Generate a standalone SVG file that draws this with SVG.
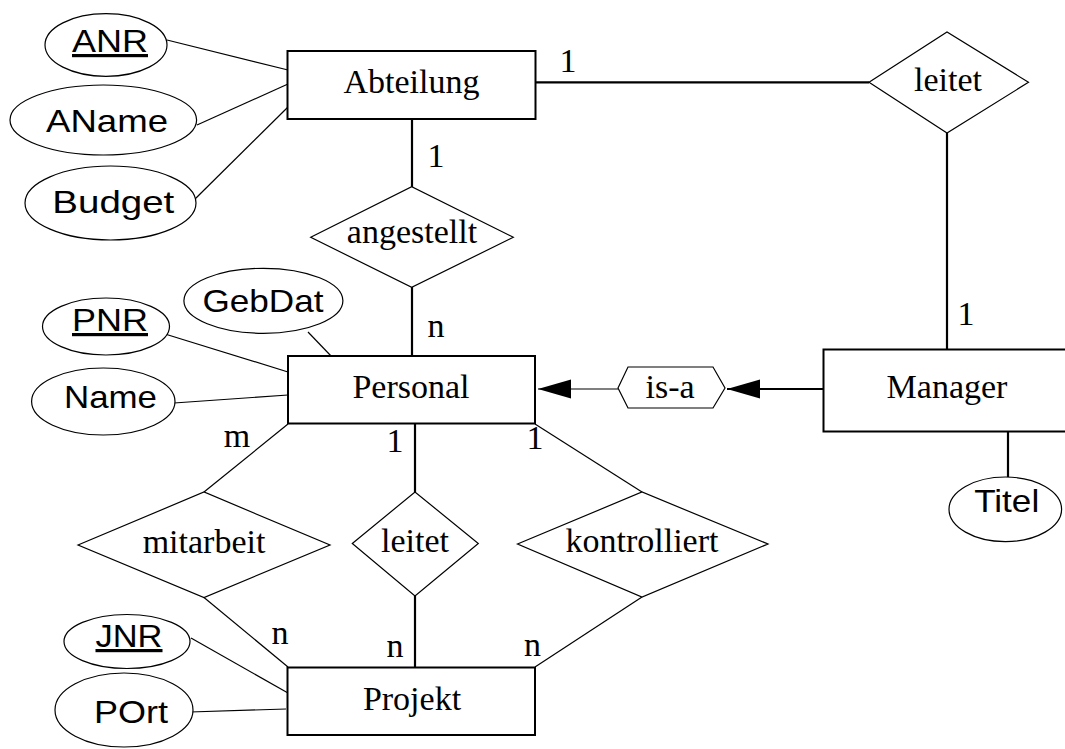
<svg xmlns="http://www.w3.org/2000/svg" width="1065" height="749" viewBox="0 0 1065 749">
<style>
.bg{fill:#fff}
.ent{fill:#fff;stroke:#000;stroke-width:2}
.rel{fill:#fff;stroke:#000;stroke-width:1.2}
.att{fill:#fff;stroke:#000;stroke-width:1.2}
.thin{stroke:#000;stroke-width:1.2;fill:none}
.thick{stroke:#000;stroke-width:2.2;fill:none}
.t{font-family:"Liberation Serif","Times New Roman",serif;font-size:34px;fill:#000;text-anchor:middle}
.a{font-family:"Liberation Sans",Arial,sans-serif;font-size:32px;fill:#000;text-anchor:middle}
.u{text-decoration:underline}
</style>
<defs>
<marker id="arr" markerUnits="userSpaceOnUse" markerWidth="34" markerHeight="20" refX="33" refY="9.5" orient="auto" viewBox="0 0 34 20">
<path d="M0,0 L33,9.5 L0,19 Z" fill="#000"/>
</marker>
</defs>
<rect class="bg" x="0" y="0" width="1065" height="749"/>
<g id="connectors">
<line class="thin" x1="167" y1="40" x2="288" y2="70"/>
<line class="thin" x1="197" y1="125" x2="288" y2="84"/>
<line class="thin" x1="192" y1="202" x2="288" y2="107"/>
<line class="thick" x1="536" y1="82.3" x2="869" y2="82.3"/>
<line class="thick" x1="947" y1="133" x2="947" y2="349"/>
<line class="thick" x1="412" y1="119" x2="412" y2="187"/>
<line class="thick" x1="412" y1="287" x2="412" y2="356"/>
<line class="thin" x1="165" y1="334" x2="288" y2="372"/>
<line class="thin" x1="308" y1="332" x2="332" y2="357"/>
<line class="thin" x1="174" y1="403" x2="288" y2="395"/>
<line class="thick" x1="823" y1="389" x2="727" y2="389" marker-end="url(#arr)"/>
<line class="thin" x1="618" y1="389" x2="538" y2="389" marker-end="url(#arr)"/>
<line class="thick" x1="1008" y1="432" x2="1008" y2="477"/>
<line class="thin" x1="288" y1="424" x2="204" y2="492"/>
<line class="thick" x1="415" y1="422" x2="415" y2="492"/>
<line class="thin" x1="535" y1="424" x2="642" y2="492"/>
<line class="thin" x1="204" y1="597.5" x2="288" y2="667"/>
<line class="thick" x1="415" y1="596" x2="415" y2="668"/>
<line class="thin" x1="642" y1="597" x2="535" y2="667"/>
<line class="thin" x1="191" y1="638" x2="288" y2="693"/>
<line class="thin" x1="190" y1="712" x2="286" y2="709"/>
<text class="t" x="568" y="72">1</text>
<text class="t" x="436" y="167">1</text>
<text class="t" x="436" y="337">n</text>
<text class="t" x="966" y="325">1</text>
<text class="t" x="237" y="447">m</text>
<text class="t" x="395" y="452">1</text>
<text class="t" x="535" y="449">1</text>
<text class="t" x="280" y="644">n</text>
<text class="t" x="395" y="657">n</text>
<text class="t" x="532.5" y="656">n</text>
</g>
<g id="ANR"><ellipse class="att" cx="106" cy="45" rx="61" ry="31.3"/><text class="a u" x="110" y="52" textLength="76" lengthAdjust="spacingAndGlyphs">ANR</text></g>
<g id="AName"><ellipse class="att" cx="103.3" cy="120" rx="93.3" ry="35"/><text class="a" x="107" y="131.5" textLength="122" lengthAdjust="spacingAndGlyphs">AName</text></g>
<g id="Budget"><ellipse class="att" cx="110.5" cy="203" rx="85.5" ry="37"/><text class="a" x="113.3" y="213" textLength="122" lengthAdjust="spacingAndGlyphs">Budget</text></g>
<g id="Abteilung"><rect class="ent" x="287.5" y="51" width="248" height="68"/><text class="t" x="411.5" y="93">Abteilung</text></g>
<g id="leitet1"><polygon class="rel" points="869,82.3 947,32 1028.5,82.3 947,133"/><text class="t" x="948" y="91">leitet</text></g>
<g id="angestellt"><polygon class="rel" points="310.7,237.3 411.7,186.7 513.3,237.3 411.7,287.3"/><text class="t" x="412" y="243">angestellt</text></g>
<g id="PNR"><ellipse class="att" cx="106" cy="326.5" rx="63.5" ry="28.5"/><text class="a u" x="110" y="331" textLength="76" lengthAdjust="spacingAndGlyphs">PNR</text></g>
<g id="GebDat"><ellipse class="att" cx="263.4" cy="300.8" rx="79.5" ry="32.5"/><text class="a" x="263" y="311.7" textLength="121" lengthAdjust="spacingAndGlyphs">GebDat</text></g>
<g id="Name"><ellipse class="att" cx="103.3" cy="401.5" rx="71.7" ry="33.5"/><text class="a" x="110.5" y="408.3" textLength="93" lengthAdjust="spacingAndGlyphs">Name</text></g>
<g id="Personal"><rect class="ent" x="288" y="356" width="247" height="67.5"/><text class="t" x="411" y="397.7">Personal</text></g>
<g id="isa"><polygon class="rel" points="618,388 628,367 713,367 725,388 713,408 628,408"/><text class="t" x="670" y="397.7">is-a</text></g>
<g id="Manager"><rect class="ent" x="823.5" y="349.5" width="250" height="82"/><text class="t" x="947" y="398">Manager</text></g>
<g id="Titel"><ellipse class="att" cx="1005.3" cy="509.3" rx="56.3" ry="32.3"/><text class="a" x="1006.7" y="511.7" textLength="65" lengthAdjust="spacingAndGlyphs">Titel</text></g>
<g id="mitarbeit"><polygon class="rel" points="78,545 204,492 330,545 204,597.5"/><text class="t" x="204" y="552.7">mitarbeit</text></g>
<g id="leitet2"><polygon class="rel" points="352.3,543.5 415,492 478.3,543.5 415,596"/><text class="t" x="415" y="551.7">leitet</text></g>
<g id="kontrolliert"><polygon class="rel" points="517.5,544 642,492 768,544 642,597"/><text class="t" x="642" y="552">kontrolliert</text></g>
<g id="JNR"><ellipse class="att" cx="127" cy="641.5" rx="63" ry="27"/><text class="a u" x="129" y="647" textLength="67" lengthAdjust="spacingAndGlyphs">JNR</text></g>
<g id="POrt"><ellipse class="att" cx="124" cy="710" rx="69" ry="37"/><text class="a" x="131" y="723" textLength="74" lengthAdjust="spacingAndGlyphs">POrt</text></g>
<g id="Projekt"><rect class="ent" x="287.5" y="667.5" width="247.5" height="67.5"/><text class="t" x="412" y="710">Projekt</text></g>
</svg>
